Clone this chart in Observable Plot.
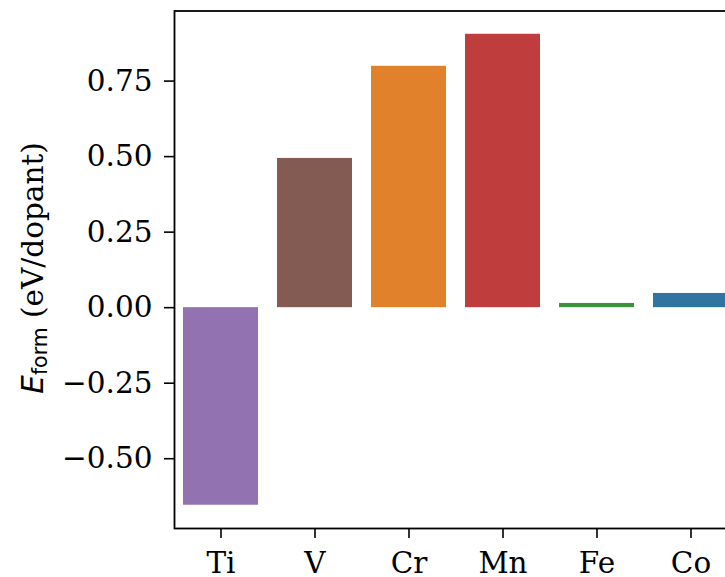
<!DOCTYPE html>
<html>
<head>
<meta charset="utf-8">
<script src="https://cdn.jsdelivr.net/npm/d3@7"></script>
<script src="https://cdn.jsdelivr.net/npm/@observablehq/plot@0.6"></script>
<style>
  html, body { margin: 0; padding: 0; background: #fff; overflow: hidden; }
  #chart { width: 725px; height: 577px; overflow: hidden; }
  #chart svg { max-width: none !important; width: 738px !important; height: 577px !important; }
  #chart svg text { font-family: "DejaVu Serif"; }
</style>
</head>
<body>
<div id="chart"></div>
<script>
const elements = ["Ti", "V", "Cr", "Mn", "Fe", "Co"];
const formationEnergy = [-0.654, 0.494, 0.799, 0.905, 0.014, 0.047];
const barColors = ["#9372b2", "#845b53", "#e1812c", "#c03d3e", "#3a923a", "#3274a1"];
const yTicks = [-0.5, -0.25, 0, 0.25, 0.5, 0.75];

const data = elements.map((el, i) => ({el, value: formationEnergy[i], color: barColors[i]}));
const fmt = d => (d < 0 ? "\u2212" : "") + Math.abs(d).toFixed(2);
const FS = 29.5;

const plot = Plot.plot({
  width: 738,
  height: 577,
  marginLeft: 174,
  marginRight: 0,
  marginTop: 10.5,
  marginBottom: 49,
  style: {fontFamily: "DejaVu Serif", fontSize: FS + "px", color: "#000", background: "#fff", overflow: "visible", maxWidth: "none"},
  x: {domain: elements, paddingInner: 0.2, paddingOuter: 0.1, label: null},
  y: {domain: [-0.731, 0.982], label: null},
  marks: [
    Plot.barY(data, {x: "el", y: "value", fill: "color"}),
    Plot.axisY({ticks: yTicks, tickFormat: fmt, tickSize: 10, tickPadding: 12, strokeWidth: 1.6, label: null, fontSize: FS}),
    Plot.axisX({tickSize: 10, tickPadding: 14, strokeWidth: 1.6, label: null, fontSize: FS}),
    Plot.frame({stroke: "#000", strokeWidth: 1.8})
  ]
});

const svg = d3.select(plot);
const lbl = svg.append("text")
  .attr("transform", "translate(43,268) rotate(-90)")
  .attr("text-anchor", "middle")
  .attr("font-size", FS)
  .attr("fill", "#000");
lbl.append("tspan").style("font-family", "DejaVu Sans").attr("font-style", "italic").text("E");
lbl.append("tspan").style("font-family", "DejaVu Sans").attr("font-size", 20.5).attr("dy", 4).text("form");
lbl.append("tspan").attr("dy", -4).text(" (eV/dopant)");

document.getElementById("chart").appendChild(plot);
</script>
</body>
</html>
